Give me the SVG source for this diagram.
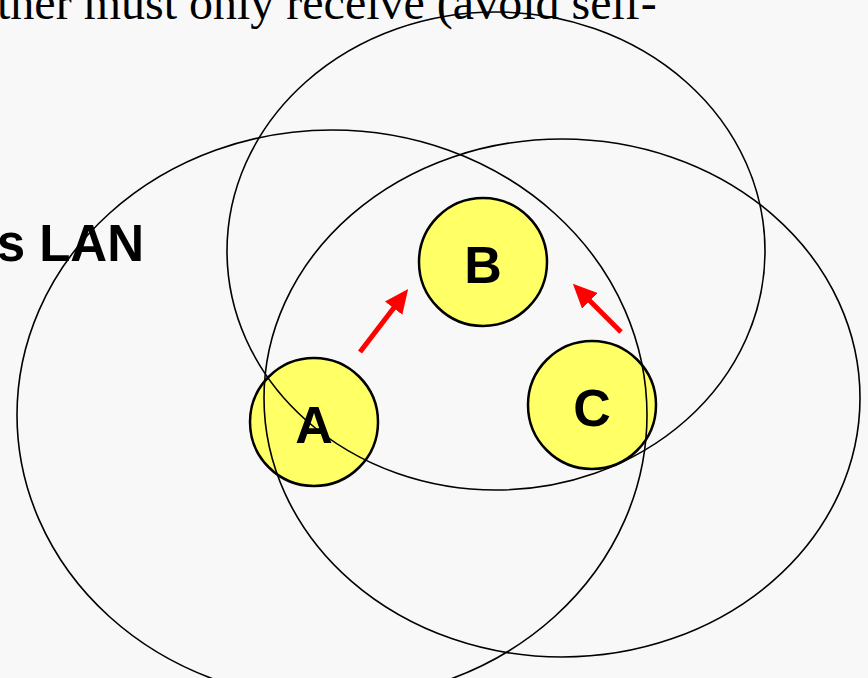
<svg xmlns="http://www.w3.org/2000/svg" width="868" height="678" viewBox="0 0 868 678">
<style>
.node{fill:#ffff66;stroke:#000;stroke-width:2.5}
.lbl{font-family:"Liberation Sans",Arial,sans-serif;font-weight:bold;font-size:52px;text-anchor:middle;fill:#000}
.range{fill:none;stroke:#000;stroke-width:1.6}
.arr{stroke:#ff0000;stroke-width:5;fill:none}
</style>
<defs>
<marker id="ah" markerUnits="userSpaceOnUse" markerWidth="24" markerHeight="22" viewBox="0 0 24 22" refX="4" refY="11" orient="auto">
<polygon points="0,0 24,11 0,22" fill="#ff0000"/>
</marker>
</defs>
<rect width="868" height="678" fill="#f8f8f8"/>
<text x="-3" y="19" font-family="'Liberation Serif','Times New Roman',serif" font-size="48" fill="#000">ther must only receive (avoid self-</text>
<text x="144" y="261" font-family="'Liberation Sans',Arial,sans-serif" font-weight="bold" font-size="51" text-anchor="end" fill="#000">s LAN</text>
<g id="nodeA"><circle class="node" cx="314" cy="422" r="64"/><text class="lbl" x="314" y="443">A</text></g>
<g id="nodeB"><circle class="node" cx="483" cy="262" r="64"/><text class="lbl" x="483" y="283">B</text></g>
<g id="nodeC"><circle class="node" cx="592" cy="405" r="64"/><text class="lbl" x="592" y="426">C</text></g>
<g id="connectors">
<line class="arr" x1="360" y1="352" x2="396" y2="305" marker-end="url(#ah)"/>
<line class="arr" x1="621" y1="332" x2="587" y2="298" marker-end="url(#ah)"/>
</g>
<g id="ranges">
<ellipse class="range" cx="332" cy="415" rx="315" ry="285"/>
<ellipse class="range" cx="496" cy="251" rx="269" ry="239"/>
<ellipse class="range" cx="562" cy="398" rx="298" ry="259"/>
</g>
</svg>
